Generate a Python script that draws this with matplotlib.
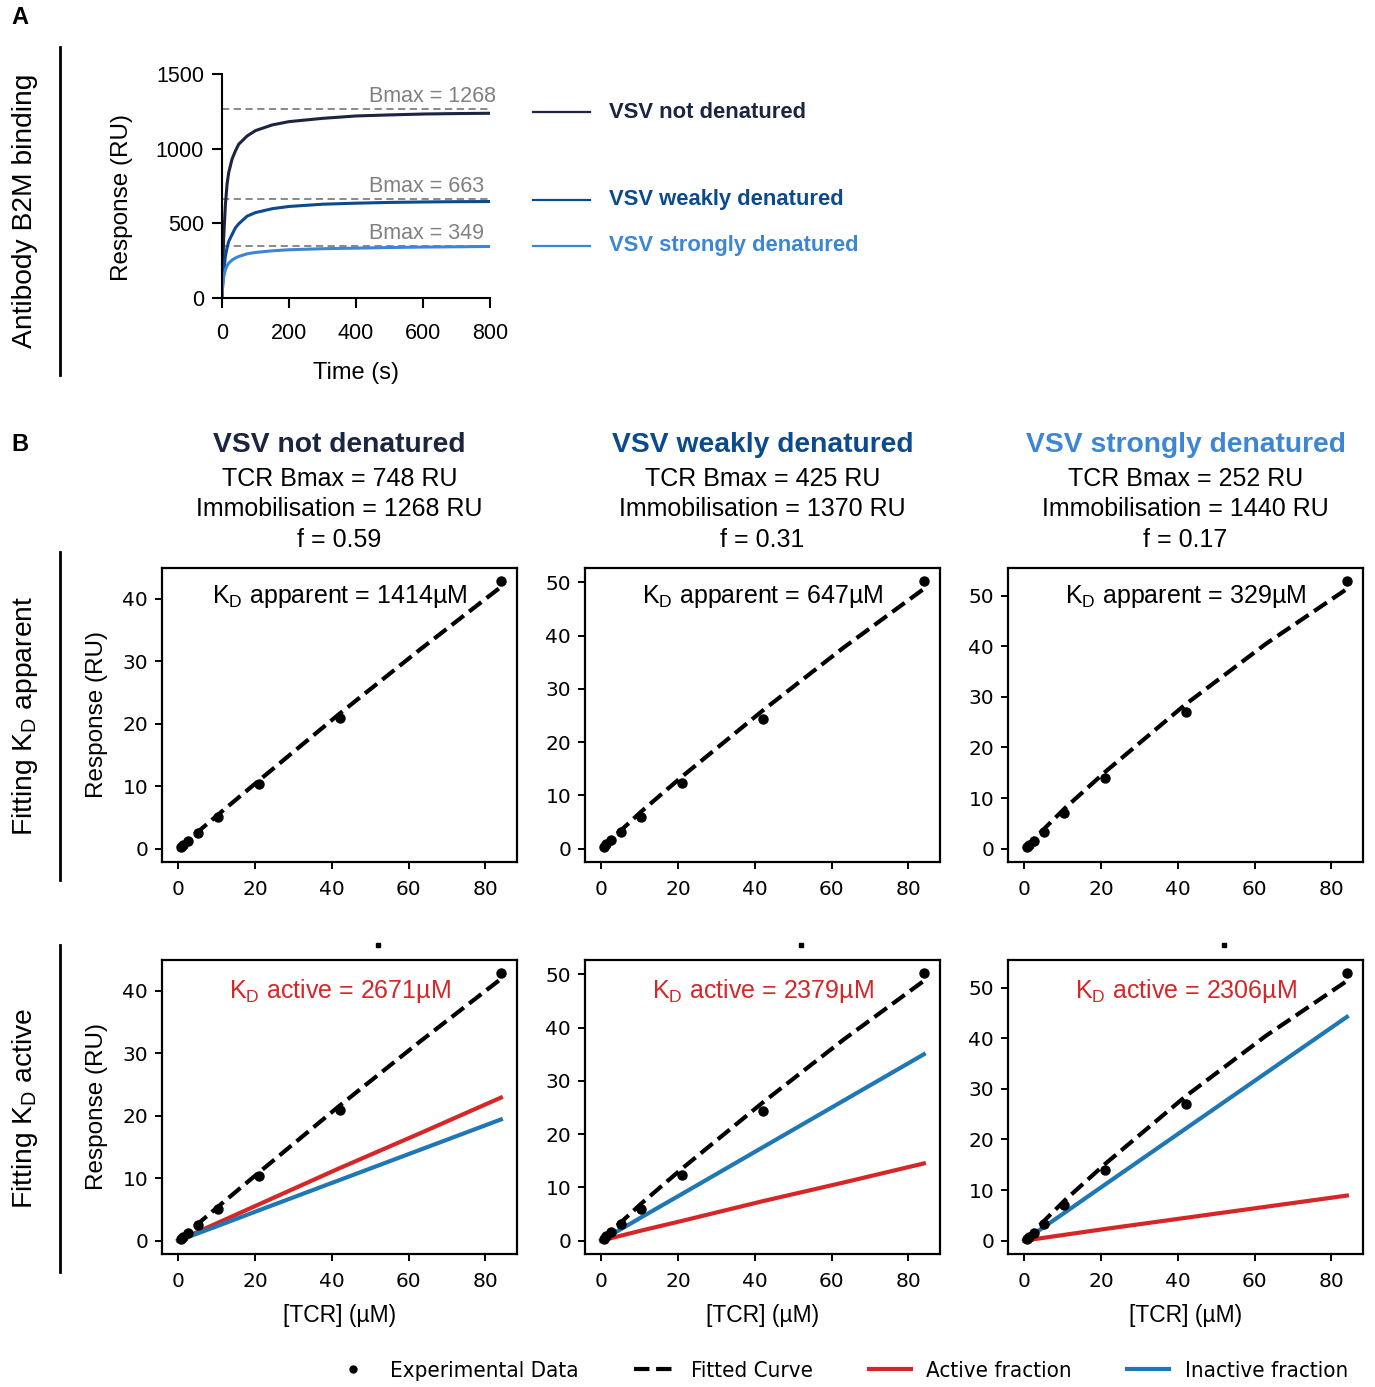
import matplotlib
matplotlib.use('Agg')
import matplotlib.pyplot as plt
from matplotlib.lines import Line2D
from matplotlib.ticker import MultipleLocator

plt.rcParams['font.family'] = ['Liberation Sans', 'DejaVu Sans']
plt.rcParams['mathtext.fontset'] = 'custom'
plt.rcParams['mathtext.rm'] = 'Liberation Sans'
plt.rcParams['mathtext.it'] = 'Liberation Sans:italic'
plt.rcParams['mathtext.bf'] = 'Liberation Sans:bold'

# ---------------- Panel A data ----------------
time_s = [0, 2, 5, 10, 15, 20, 30, 40, 50, 75, 100, 150, 200, 300, 400, 500, 600, 700, 800]
ru_not = [0, 180, 400, 620, 760, 840, 930, 985, 1030, 1085, 1121, 1159, 1181, 1203, 1219, 1226, 1232, 1235, 1237]
ru_weak = [0, 90, 167, 279, 335, 379, 425, 470, 497, 548, 572, 598, 613, 628, 635, 640, 643, 645, 646]
ru_strong = [0, 80, 140, 189, 215, 233, 254, 268, 278, 296, 305, 316, 323, 330, 334, 338, 341, 343, 345]
bmax_a = [1268, 663, 349]
cond_labels = ['VSV not denatured', 'VSV weakly denatured', 'VSV strongly denatured']
cond_colors = ['#1b2440', '#0c4a8e', '#3d86d6']

# ---------------- Panel B data ----------------
conc = [0.656, 1.3125, 2.625, 5.25, 10.5, 21, 42, 84]
resp = [
    [0.3, 0.65, 1.25, 2.55, 5.1, 10.3, 20.9, 42.8],
    [0.4, 0.8, 1.6, 3.1, 6.0, 12.3, 24.4, 50.2],
    [0.4, 0.8, 1.6, 3.2, 7.0, 13.9, 27.0, 52.8],
]
line_x = [0, 10.5, 21, 42, 63, 84]
fit_curve = [
    [0, 5.5, 10.9, 21.6, 31.9, 41.9],
    [0, 7.0, 13.5, 25.9, 37.7, 48.8],
    [0, 7.9, 15.1, 28.5, 40.5, 51.3],
]
active_frac = [
    [0, 2.9, 5.8, 11.6, 17.2, 22.9],
    [0, 1.9, 3.7, 7.4, 10.9, 14.5],
    [0, 1.15, 2.3, 4.5, 6.7, 8.9],
]
inactive_frac = [
    [0, 2.4, 4.85, 9.7, 14.55, 19.4],
    [0, 4.4, 8.75, 17.5, 26.25, 35.0],
    [0, 5.5, 11.05, 22.1, 33.15, 44.2],
]
tcr_bmax = [748, 425, 252]
immobilisation = [1268, 1370, 1440]
f_active = ['0.59', '0.31', '0.17']
kd_apparent = [1414, 647, 329]
kd_active = [2671, 2379, 2306]

RED = '#d62728'
BLUE = '#1f77b4'

W, H = 1375, 1387
fig = plt.figure(figsize=(13.75, 13.87), dpi=100)


def ax_px(l, t, r, b):
    return fig.add_axes([l / W, 1 - b / H, (r - l) / W, (b - t) / H])


def fx(x):
    return x / W


def fy(y):
    return 1 - y / H


# ---------------- Panel A ----------------
axA = ax_px(222, 74, 490, 298)
for ru, c in zip([ru_not, ru_weak, ru_strong], cond_colors):
    axA.plot(time_s, ru, color=c, lw=2.2, solid_capstyle='butt')
for b in bmax_a:
    axA.axhline(b, color='#808080', ls='--', lw=1.3, dashes=(4, 2.5), zorder=0)
    axA.annotate(f'Bmax = {b}', xy=(440, b), xytext=(0, 1.5), textcoords='offset points',
                 ha='left', va='bottom', fontsize=15.5, color='#808080')
axA.set_xlim(0, 800)
axA.set_ylim(0, 1500)
axA.set_xticks([0, 200, 400, 600, 800])
axA.set_yticks([0, 500, 1000, 1500])
axA.spines['top'].set_visible(False)
axA.spines['right'].set_visible(False)
for s in ['left', 'bottom']:
    axA.spines[s].set_linewidth(1.5)
axA.tick_params(direction='out', length=7, width=1.5, labelsize=15.5, pad=6)
axA.tick_params(axis='x', pad=11)
axA.set_xlabel('Time (s)', fontsize=17, labelpad=13)
axA.set_ylabel('Response (RU)', fontsize=17.5)
axA.yaxis.set_label_coords(-0.332, 0.449)

# Panel A legend
leg_y = [112, 200, 246]
for yy, lab, c in zip(leg_y, cond_labels, cond_colors):
    fig.add_artist(Line2D([fx(533), fx(590)], [fy(yy), fy(yy)], color=c, lw=1.6))
    fig.text(fx(609), fy(yy), lab, color=c, fontsize=15.8, fontweight='bold', ha='left', va='center')

# ---------------- Panel B ----------------
col_lr = [(162, 517), (585, 940), (1008, 1363)]
row_tb = [(568, 862), (960, 1254)]
for i, (l, r) in enumerate(col_lr):
    cx = (l + r) / 2
    fig.text(fx(cx), fy(445), cond_labels[i], color=cond_colors[i], fontsize=20.3,
             fontweight='bold', ha='center', va='center')
    fig.text(fx(cx), fy(479), f'TCR Bmax = {tcr_bmax[i]} RU', fontsize=18, ha='center', va='center')
    fig.text(fx(cx), fy(509), f'Immobilisation = {immobilisation[i]} RU', fontsize=18,
             ha='center', va='center')
    fig.text(fx(cx), fy(540), f'f = {f_active[i]}', fontsize=18, ha='center', va='center')
    fig.add_artist(Line2D([fx(l + 216)], [fy(945)], marker='s', ms=2.4, color='black', ls='none'))

    for j, (t, b) in enumerate(row_tb):
        ax = ax_px(l, t, r, b)
        ax.plot(conc, resp[i], 'o', color='black', ms=6.5, zorder=3)
        ax.plot(line_x, fit_curve[i], color='black', ls='--', lw=3, zorder=4)
        if j == 1:
            ax.plot(line_x, active_frac[i], color=RED, lw=3, zorder=2)
            ax.plot(line_x, inactive_frac[i], color=BLUE, lw=3, zorder=2)
            ax.text(0.5, 0.871, r'K$_\mathrm{D}$ active = ' + f'{kd_active[i]}µM',
                    transform=ax.transAxes, ha='center', va='baseline', fontsize=18, color=RED)
            ax.set_xlabel('[TCR] (µM)', fontsize=16.5, labelpad=9)
        else:
            ax.text(0.5, 0.881, r'K$_\mathrm{D}$ apparent = ' + f'{kd_apparent[i]}µM',
                    transform=ax.transAxes, ha='center', va='baseline', fontsize=18, color='black')
        ax.set_xticks([0, 20, 40, 60, 80])
        ax.yaxis.set_major_locator(MultipleLocator(10))
        for s in ax.spines.values():
            s.set_linewidth(1.6)
        ax.tick_params(direction='out', length=5, width=1.4, labelsize=14.5, pad=5)
        ax.tick_params(axis='x', pad=8)
        for lab in ax.get_xticklabels() + ax.get_yticklabels():
            lab.set_fontfamily('DejaVu Sans')
        if i == 0:
            ax.set_ylabel('Response (RU)', fontsize=17.5, labelpad=10)

# Row labels and separators
for (y0, y1), lab in zip([(47, 375), (552, 880), (945, 1272)],
                         ['Antibody B2M binding', r'Fitting K$_\mathrm{D}$ apparent',
                          r'Fitting K$_\mathrm{D}$ active']):
    fig.add_artist(Line2D([fx(60), fx(60)], [fy(y0), fy(y1)], color='black', lw=2))
    fig.text(fx(25), fy((y0 + y1) / 2), lab, rotation=90, fontsize=20.3, ha='center', va='center')

fig.text(fx(20), fy(18), 'A', fontsize=17, fontweight='bold', ha='center', va='center')
fig.text(fx(20), fy(445), 'B', fontsize=17, fontweight='bold', ha='center', va='center')

# Bottom legend
handles = [
    Line2D([], [], marker='o', ls='none', color='black', ms=5),
    Line2D([], [], color='black', ls='--', lw=3),
    Line2D([], [], color=RED, lw=3),
    Line2D([], [], color=BLUE, lw=3),
]
labels = ['Experimental Data', 'Fitted Curve', 'Active fraction', 'Inactive fraction']
fig.legend(handles, labels, loc='center', bbox_to_anchor=(fx(840), fy(1371)), ncol=4,
           frameon=False, prop={'family': 'DejaVu Sans', 'stretch': 'condensed', 'size': 16},
           handlelength=1.9, handletextpad=0.68, columnspacing=2.5)

fig.savefig('out.png', dpi=100)
